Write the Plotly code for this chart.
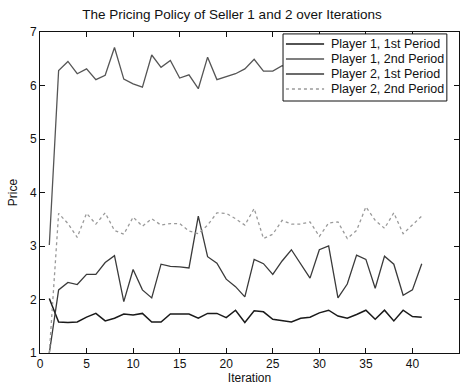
import plotly.graph_objects as go

iterations = list(range(1, 42))

p1_first = [2.02, 1.58, 1.57, 1.58, 1.67, 1.74, 1.60, 1.65, 1.73, 1.71,
            1.74, 1.58, 1.58, 1.73, 1.73, 1.73, 1.65, 1.74, 1.74, 1.66,
            1.80, 1.57, 1.79, 1.77, 1.63, 1.60, 1.58, 1.65, 1.67, 1.75,
            1.80, 1.69, 1.65, 1.72, 1.80, 1.63, 1.80, 1.60, 1.80, 1.68, 1.67]

p1_second = [3.02, 6.28, 6.45, 6.22, 6.31, 6.11, 6.19, 6.71, 6.12, 6.03,
             5.97, 6.57, 6.34, 6.47, 6.14, 6.20, 5.94, 6.53, 6.11, 6.17,
             6.22, 6.31, 6.49, 6.27, 6.27, 6.37, 6.30, 6.20, 6.48, 6.12,
             6.40, 6.22, 6.33, 6.58, 6.21, 6.12, 6.41, 6.30, 6.19, 6.47, 6.30]

p2_first = [1.00, 2.18, 2.32, 2.28, 2.47, 2.47, 2.69, 2.82, 1.96, 2.56,
            2.18, 2.03, 2.66, 2.62, 2.61, 2.59, 3.56, 2.80, 2.68, 2.38,
            2.24, 2.05, 2.75, 2.67, 2.47, 2.72, 2.93, 2.67, 2.40, 2.93,
            3.00, 2.03, 2.29, 2.83, 2.75, 2.21, 2.81, 2.66, 2.08, 2.18, 2.67]

p2_second = [1.00, 3.61, 3.42, 3.16, 3.61, 3.41, 3.62, 3.29, 3.22, 3.54,
             3.37, 3.51, 3.39, 3.42, 3.42, 3.28, 3.23, 3.39, 3.62, 3.61,
             3.51, 3.39, 3.70, 3.14, 3.22, 3.48, 3.41, 3.41, 3.45, 3.18,
             3.43, 3.45, 3.14, 3.29, 3.73, 3.48, 3.33, 3.62, 3.23, 3.39, 3.56]

series_names = ["Player 1, 1st Period", "Player 1, 2nd Period",
                "Player 2, 1st Period", "Player 2, 2nd Period"]
series_values = [p1_first, p1_second, p2_first, p2_second]
series_styles = [("#1a1a1a", 1.5, "solid"), ("#555555", 1.3, "solid"),
                 ("#3a3a3a", 1.3, "solid"), ("#9a9a9a", 1.3, "dot")]

fig = go.Figure()
for name, vals, (color, width, dash) in zip(series_names, series_values, series_styles):
    fig.add_trace(go.Scatter(
        x=iterations, y=vals, mode="lines", name=name, showlegend=False,
        line=dict(color=color, width=width, dash=dash),
    ))

# Compact boxed legend in the upper right, drawn in plot-area coordinates
box_x0, box_x1, box_y0, box_y1 = 0.580, 0.971, 0.785, 0.994
row_y = [0.9626, 0.9159, 0.8692, 0.8224]
fig.add_shape(type="rect", xref="paper", yref="paper",
              x0=box_x0, x1=box_x1, y0=box_y0, y1=box_y1,
              fillcolor="white", line=dict(color="#111", width=1), layer="above")
for name, (color, width, dash), ry in zip(series_names, series_styles, row_y):
    fig.add_shape(type="line", xref="paper", yref="paper",
                  x0=0.587, x1=0.678, y0=ry, y1=ry,
                  line=dict(color=color, width=width, dash=dash), layer="above")
    fig.add_annotation(xref="paper", yref="paper", x=0.689, y=ry,
                       text=name, showarrow=False, xanchor="left",
                       yanchor="middle", font=dict(size=12.5, color="#111"))

axis_common = dict(
    showgrid=False, zeroline=False, showline=True, linecolor="#111",
    linewidth=1, mirror="ticks", ticks="inside", ticklen=5,
    tickcolor="#111", tickfont=dict(size=12, color="#111"),
)

fig.update_layout(
    width=464, height=387,
    margin=dict(l=40, r=5, t=32, b=34),
    paper_bgcolor="white", plot_bgcolor="white",
    font=dict(family="Liberation Sans, Arial, sans-serif", color="#111"),
    title=dict(text="The Pricing Policy of Seller 1 and 2 over Iterations",
               font=dict(size=13.5), x=0.5, xanchor="center",
               y=0.962, yanchor="middle"),
    xaxis=dict(range=[0, 45], tickvals=list(range(0, 46, 5)),
               title=dict(text="Iteration", font=dict(size=12), standoff=2),
               **axis_common),
    yaxis=dict(range=[1, 7], tickvals=list(range(1, 8)),
               title=dict(text="Price", font=dict(size=12), standoff=9),
               **axis_common),
)

fig.write_html("out.html")
